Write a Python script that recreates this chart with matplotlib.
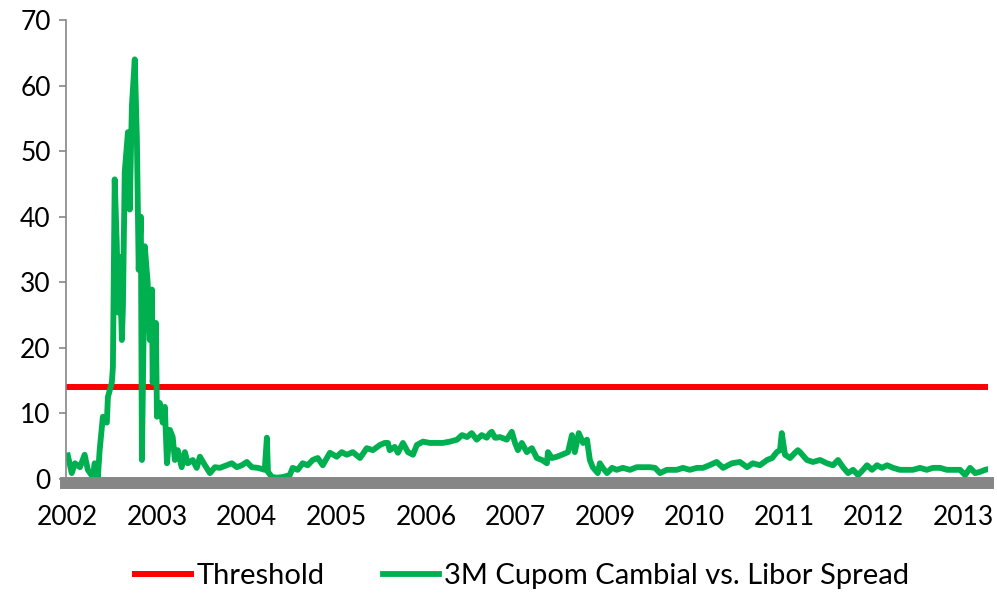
import matplotlib
matplotlib.use("Agg")
import matplotlib.pyplot as plt

# category axis: one label every 250 observations
years = ["2002", "2003", "2004", "2005", "2006", "2007", "2009", "2010", "2011", "2012", "2013"]
label_step = 250

day = [0, 11, 20, 34, 47, 56, 70, 75, 84, 89, 98, 109, 112, 123, 126, 131, 137, 140, 145, 151,
       154, 159, 168, 173, 179, 187, 193, 198, 204, 207, 215, 223, 229, 235, 237, 246, 249, 257,
       265, 271, 277, 285, 293, 299, 307, 318, 327, 335, 349, 360, 369, 383, 397, 411, 425, 444,
       458, 472, 486, 500, 514, 531, 550, 556, 559, 570, 584, 601, 620, 628, 642, 656, 670, 684,
       698, 712, 732, 751, 765, 779, 796, 816, 835, 852, 872, 885, 894, 899, 913, 922, 936, 950,
       964, 975, 992, 1011, 1031, 1047, 1067, 1087, 1101, 1115, 1128, 1142, 1156, 1170, 1179,
       1184, 1193, 1198, 1207, 1226, 1240, 1249, 1257, 1268, 1282, 1296, 1310, 1324, 1338, 1341,
       1352, 1366, 1380, 1397, 1408, 1416, 1427, 1439, 1450, 1458, 1466, 1480, 1486, 1494, 1506,
       1520, 1533, 1550, 1570, 1589, 1606, 1626, 1640, 1654, 1673, 1701, 1718, 1737, 1757, 1774,
       1792, 1812, 1830, 1855, 1877, 1897, 1913, 1933, 1953, 1967, 1980, 1989, 1994, 2003, 2017,
       2031, 2039, 2045, 2064, 2081, 2101, 2120, 2137, 2151, 2165, 2179, 2193, 2207, 2221, 2232,
       2246, 2260, 2274, 2288, 2305, 2324, 2344, 2360, 2380, 2399, 2416, 2436, 2455, 2472, 2492,
       2506, 2520, 2534, 2548, 2562, 2570]
spread = [3.6, 0.9, 2.4, 1.8, 3.7, 1.4, 0.3, 2.4, 0.3, 4.4, 9.5, 8.6, 12.5, 14.7, 17.1, 45.7, 35.5, 25.4, 33.9, 21.2,
          26.3, 46.8, 52.9, 41.1, 56.9, 64.0, 51.8, 31.9, 40.0, 2.9, 35.5, 30.0, 21.2, 28.9, 14.7, 23.8, 9.5, 11.6,
          8.6, 11.0, 2.4, 7.5, 6.4, 2.9, 4.4, 1.8, 4.1, 2.4, 2.9, 1.7, 3.4, 2.1, 0.9, 1.8, 1.7, 2.1,
          2.4, 1.8, 2.1, 2.6, 1.8, 1.7, 1.4, 6.3, 1.1, 0.3, 0.2, 0.3, 0.6, 1.7, 1.4, 2.4, 2.1, 2.9,
          3.2, 2.1, 4.0, 3.4, 4.1, 3.7, 4.1, 3.2, 4.7, 4.4, 5.2, 5.5, 5.5, 4.4, 4.9, 4.0, 5.5, 4.1,
          3.7, 5.2, 5.7, 5.5, 5.5, 5.5, 5.7, 6.0, 6.7, 6.4, 7.0, 6.0, 6.7, 6.3, 7.0,
          7.2, 6.3, 6.3, 6.4, 6.0, 7.2, 5.5, 4.4, 5.5, 4.1, 4.7, 3.2, 2.9, 2.4, 4.1,
          3.2, 3.4, 3.7, 4.1, 6.7, 4.1, 7.0, 5.5, 6.0, 2.9, 1.8, 0.9, 2.4, 1.7, 0.9,
          1.7, 1.4, 1.7, 1.4, 1.8, 1.8, 1.8, 1.7, 0.9, 1.4, 1.4, 1.7, 1.4, 1.7, 1.7,
          2.1, 2.6, 1.7, 2.4, 2.6, 1.8, 2.4, 2.1, 2.9, 3.2, 4.1, 4.4, 7.0, 3.7, 3.2,
          4.0, 4.4, 4.1, 2.9, 2.6, 2.9, 2.4, 2.1, 2.9, 1.8, 0.9, 1.4, 0.6, 1.4, 2.1,
          1.4, 2.1, 1.7, 2.1, 1.7, 1.4, 1.4, 1.4, 1.7, 1.4, 1.7, 1.7, 1.4, 1.4, 1.4,
          0.6, 1.7, 0.9, 1.1, 1.4, 1.5]
threshold = 14

plt.rcParams['font.family'] = ['Lato', 'DejaVu Sans']

fig = plt.figure(figsize=(9.97, 5.96), dpi=100)
ax = fig.add_axes([0.0662, 0.1963, 0.9248, 0.7701])

ax.axhline(threshold, color='#ff0000', lw=4.3, label='Threshold', zorder=2)
ax.plot(day, spread, color='#00b050', lw=4.2, solid_joinstyle='round',
        label='3M Cupom Cambial vs. Libor Spread', zorder=2)

ax.set_xlim(-5, 2570)
ax.set_ylim(0, 70)
ax.set_yticks(range(0, 71, 10))
ax.set_xticks([i * label_step for i in range(len(years))])
ax.set_xticklabels(years)

for s in ['top', 'right']:
    ax.spines[s].set_visible(False)
ax.spines['left'].set_color('#868686')
ax.spines['left'].set_linewidth(1.2)
ax.spines['bottom'].set_color('#868686')
ax.spines['bottom'].set_linewidth(8.6)
ax.spines['bottom'].set_position(('outward', 2.9))
ax.spines['bottom'].set_zorder(3)

ax.tick_params(axis='y', colors='#868686', length=5, width=1.2, labelsize=19, labelcolor='black', pad=6)
ax.tick_params(axis='x', length=0, labelsize=19, labelcolor='black', pad=16)

fig.legend(loc='center', bbox_to_anchor=(0.524, 0.034), ncol=2, frameon=False,
           fontsize=21, handlelength=1.9, columnspacing=2.0, handletextpad=0.2)

fig.savefig('out.png', dpi=100)
